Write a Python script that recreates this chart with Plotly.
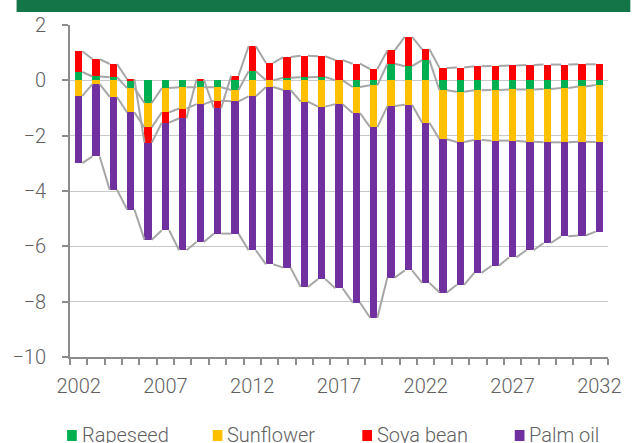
import plotly.graph_objects as go

years = list(range(2002, 2033))
rapeseed = [0.30, 0.14, 0.11, -0.28, -0.82, -0.28, -0.25, -0.25, -0.25, -0.35,
            0.33, 0.00, 0.09, 0.11, 0.12, 0.00, -0.24, -0.18, 0.60, 0.51,
            0.73, -0.36, -0.41, -0.36, -0.35, -0.33, -0.33, -0.31, -0.28, -0.22, -0.17]
sunflower = [-0.56, -0.14, -0.60, -0.88, -0.88, -0.88, -0.77, -0.61, -0.49, -0.41,
             -0.58, -0.24, -0.35, -0.77, -0.95, -0.86, -0.94, -1.51, -0.93, -0.88,
             -1.53, -1.77, -1.82, -1.80, -1.83, -1.85, -1.89, -1.93, -1.96, -2.00, -2.06]
soya_bean = [0.75, 0.63, 0.48, 0.04, -0.55, -0.37, -0.35, 0.03, -0.27, 0.17,
             0.90, 0.63, 0.75, 0.78, 0.75, 0.73, 0.60, 0.41, 0.48, 1.06,
             0.39, 0.45, 0.46, 0.51, 0.52, 0.54, 0.55, 0.57, 0.57, 0.58, 0.58]
palm_oil = [-2.43, -2.61, -3.36, -3.51, -3.51, -3.89, -4.77, -4.98, -4.53, -4.78,
            -5.56, -6.41, -6.42, -6.70, -6.23, -6.66, -6.85, -6.89, -6.20, -5.99,
            -5.79, -5.54, -5.16, -4.80, -4.52, -4.22, -3.92, -3.64, -3.40, -3.39, -3.24]

series_names = ["Rapeseed", "Sunflower", "Soya bean", "Palm oil"]
series_values = [rapeseed, sunflower, soya_bean, palm_oil]
series_colors = ["#00B050", "#FFC000", "#FF0000", "#7030A0"]
x_tick_years = [2002, 2007, 2012, 2017, 2022, 2027, 2032]
y_ticks = [-10, -8, -6, -4, -2, 0, 2]

BAR_W = 0.42
FONT = "Roboto"
WEIGHT = 300
TXT = "#5f5f5f"
AXIS = "#8c8c8c"

# plot area in pixels (for converting layout decorations to paper coords)
PL, PR, PT, PB = 63, 617, 25, 357
def px(x):
    return (x - PL) / (PR - PL)
def py(y):
    return (PB - y) / (PB - PT)

fig = go.Figure()
for name, vals, col in zip(series_names, series_values, series_colors):
    fig.add_trace(go.Bar(x=years, y=vals, name=name, width=BAR_W, showlegend=False,
                         marker=dict(color=col, line=dict(width=0))))

# series lines (connect the far edge of each series segment between adjacent bars)
n = len(years)
pos = [0.0] * n
neg = [0.0] * n
for vals in series_values:
    ends = []
    for i, v in enumerate(vals):
        if v >= 0:
            pos[i] += v
            ends.append(pos[i])
        else:
            neg[i] += v
            ends.append(neg[i])
    lx, ly = [], []
    for i in range(n - 1):
        lx += [years[i] + BAR_W / 2, years[i + 1] - BAR_W / 2, None]
        ly += [ends[i], ends[i + 1], None]
    fig.add_trace(go.Scatter(x=lx, y=ly, mode="lines", showlegend=False,
                             hoverinfo="skip",
                             line=dict(color="#a6a6a6", width=2)))

# header band
shapes = [dict(type="rect", xref="paper", yref="paper",
               x0=px(8), x1=px(640), y0=py(12), y1=py(-5),
               fillcolor="#147548", line=dict(width=0), layer="above")]
annotations = []
# legend (drawn manually for exact placement)
legend_x = [60, 210, 364, 521]
for name, col, lx0 in zip(series_names, series_colors, legend_x):
    shapes.append(dict(type="rect", xref="paper", yref="paper",
                       x0=px(lx0), x1=px(lx0 + 10), y0=py(441), y1=py(430),
                       fillcolor=col, line=dict(width=0)))
    annotations.append(dict(xref="paper", yref="paper", x=px(lx0 + 13), y=py(435),
                            xanchor="left", yanchor="middle", showarrow=False,
                            text=name,
                            font=dict(family=FONT, size=20, color=TXT, weight=WEIGHT)))

fig.update_layout(
    width=633, height=443,
    margin=dict(l=PL, r=633 - PR, t=PT, b=443 - PB),
    paper_bgcolor="white", plot_bgcolor="white",
    barmode="relative", bargap=0,
    font=dict(family=FONT, size=20, color=TXT, weight=WEIGHT),
    showlegend=False,
    shapes=shapes, annotations=annotations,
)
fig.update_xaxes(range=[2001.5, 2032.5], tickmode="array", tickvals=x_tick_years,
                 ticktext=[str(y) for y in x_tick_years], ticks="", showgrid=False,
                 showline=True, linecolor=AXIS, linewidth=2, zeroline=False,
                 ticklabelstandoff=10,
                 tickfont=dict(family=FONT, size=20, color=TXT, weight=WEIGHT),
                 minor=dict(tickmode="linear", tick0=2001.5, dtick=1, ticks="outside",
                            ticklen=6, tickwidth=2, tickcolor=AXIS, showgrid=False))
fig.update_yaxes(range=[-10, 2], tickmode="array", tickvals=y_ticks,
                 ticks="outside", ticklen=6, tickwidth=2, tickcolor=AXIS,
                 showgrid=True, gridcolor="#c8c8c8", gridwidth=1, zeroline=False,
                 showline=True, linecolor=AXIS, linewidth=2,
                 ticklabelstandoff=12,
                 tickfont=dict(family=FONT, size=20, color=TXT, weight=WEIGHT))

fig.write_html("out.html", config={"displayModeBar": False},
               post_script="document.body.style.margin='0';")
